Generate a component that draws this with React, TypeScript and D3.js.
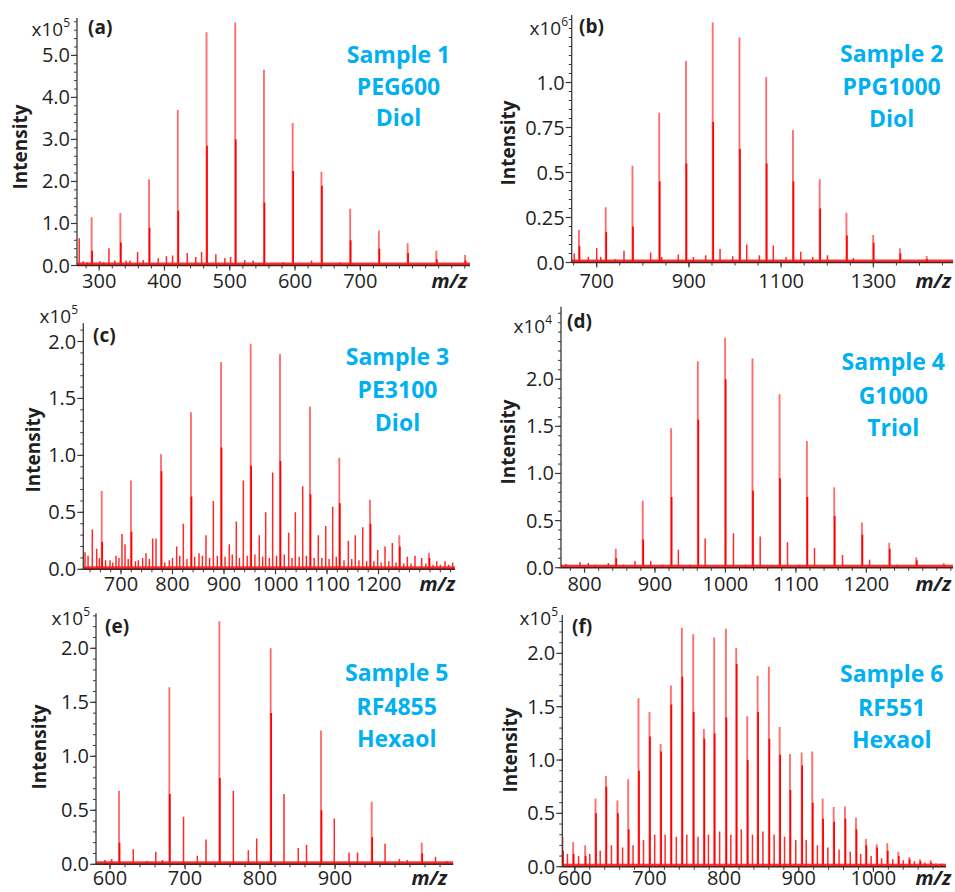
import React from 'react';
import * as d3 from 'd3';

// main peaks: [m/z, apex intensity, height of the dense core below the apex]
// minor peaks: [m/z, intensity]
const peaksA = [[288.4, 1.15, 0.35], [332.4, 1.25, 0.55], [376.4, 2.05, 0.9], [420.4, 3.7, 1.3], [464.4, 5.55, 2.85], [508.4, 5.78, 3.0], [552.4, 4.66, 1.5], [596.4, 3.39, 2.25], [640.4, 2.23, 1.9], [684.4, 1.35, 0.6], [728.4, 0.83, 0.4], [772.4, 0.53, 0.3], [816.4, 0.35, 0.15], [860.4, 0.25, 0.12]];
const minorA = [[269.4, 0.65], [275.5, 0.1], [281.6, 0.08], [301, 0.1], [307, 0.08], [314.9, 0.41], [324, 0.12], [341, 0.12], [347, 0.12], [358.8, 0.32], [367.4, 0.13], [390.4, 0.17], [403, 0.22], [412.4, 0.24], [434.8, 0.3], [448, 0.2], [456.8, 0.32], [478.7, 0.27], [492.5, 0.18], [501.2, 0.2], [523, 0.13], [535.8, 0.12], [546, 0.06], [581.8, 0.08], [625.3, 0.12], [668.6, 0.08], [711.9, 0.05], [755.4, 0.04], [801.4, 0.04], [857.4, 0.06]];

const peaksB = [[661.6, 0.18, 0.09], [719.6, 0.307, 0.17], [777.6, 0.538, 0.2], [835.6, 0.832, 0.45], [893.6, 1.12, 0.55], [951.6, 1.334, 0.78], [1009.6, 1.25, 0.63], [1067.6, 1.03, 0.55], [1125.6, 0.736, 0.45], [1183.6, 0.462, 0.3], [1241.6, 0.277, 0.15], [1299.6, 0.153, 0.11], [1357.6, 0.079, 0.05], [1415.6, 0.036, 0.02]];
const minorB = [[651.4, 0.05], [681.8, 0.03], [700, 0.08], [708.7, 0.03], [739.7, 0.02], [759.2, 0.065], [817, 0.055], [841, 0.03], [877, 0.045], [909.6, 0.03], [936.4, 0.04], [967.5, 0.075], [995, 0.035], [1025.4, 0.1], [1052.7, 0.04], [1083, 0.095], [1110.6, 0.03], [1142.5, 0.06], [1168.5, 0.03], [1200.3, 0.04], [1256.6, 0.025], [1318, 0.01]];

const peaksC = [[662.5, 0.687, 0.24], [719.4, 0.78, 0.33], [777.7, 1.01, 0.86], [835.9, 1.38, 0.64], [894.2, 1.82, 1.07], [951.8, 1.98, 0.91], [1008.7, 1.89, 0.95], [1067, 1.43, 0.66], [1123.9, 0.98, 0.58], [1183.5, 0.61, 0.4], [1240.4, 0.3, 0.2], [1298, 0.146, 0.1]];
const minorC = [[630.1, 0.15], [644.3, 0.35], [652.8, 0.18], [678.6, 0.08], [690.3, 0.12], [701.9, 0.31], [707.8, 0.22], [733.6, 0.08], [748.5, 0.14], [761.5, 0.27], [768, 0.27], [793.8, 0.08], [808.1, 0.2], [821, 0.4], [851.5, 0.14], [865, 0.3], [879.3, 0.6], [910.3, 0.22], [923.9, 0.42], [937.5, 0.78], [968.5, 0.3], [980.9, 0.5], [994.5, 0.85], [1025.6, 0.32], [1038.5, 0.5], [1052.8, 0.73], [1083.1, 0.3], [1097.5, 0.38], [1111, 0.55], [1141.4, 0.25], [1154.9, 0.3], [1169.3, 0.37], [1198.4, 0.17], [1212.6, 0.2], [1226.8, 0.23], [1255.9, 0.11], [1270.9, 0.12], [1283.8, 0.1], [1313, 0.07], [1329.1, 0.07], [1344, 0.06]];
const fillC = [[636, 0.12], [658, 0.1], [670, 0.08], [684, 0.06], [696, 0.1], [714, 0.09], [728, 0.07], [742, 0.1], [755, 0.09], [785, 0.06], [800, 0.1], [814, 0.12], [828, 0.09], [843, 0.11], [858, 0.12], [872, 0.1], [887, 0.12], [902, 0.11], [916, 0.13], [930, 0.1], [945, 0.12], [960, 0.13], [975, 0.11], [988, 0.1], [1002, 0.12], [1017, 0.13], [1032, 0.1], [1046, 0.11], [1060, 0.12], [1075, 0.1], [1090, 0.1], [1104, 0.09], [1118, 0.11], [1133, 0.08], [1148, 0.09], [1162, 0.08], [1177, 0.07], [1191, 0.07], [1205, 0.06], [1220, 0.07], [1234, 0.06], [1249, 0.05], [1263, 0.05], [1292, 0.05], [1306, 0.04], [1320, 0.04], [1336, 0.04]];

const peaksD = [[844.3, 0.2, 0.1], [882.6, 0.71, 0.3], [922.9, 1.48, 0.75], [960.8, 2.19, 1.57], [999.6, 2.44, 2.0], [1038.4, 2.22, 0.82], [1076.8, 1.84, 0.95], [1115.6, 1.345, 0.75], [1154.4, 0.853, 0.55], [1193.7, 0.48, 0.35], [1232.5, 0.265, 0.2], [1270.9, 0.11, 0.08], [1309.7, 0.047, 0.03]];
const minorD = [[773.7, 0.04], [793.6, 0.06], [805.4, 0.05], [815, 0.03], [833.8, 0.05], [855.1, 0.03], [871.7, 0.07], [894, 0.07], [911, 0.03], [933.2, 0.19], [949.9, 0.03], [971.2, 0.31], [988.7, 0.02], [1011.4, 0.365], [1028, 0.03], [1049.3, 0.33], [1065.9, 0.02], [1088.1, 0.27], [1105.1, 0.03], [1126.4, 0.21], [1144, 0.02], [1166.2, 0.135], [1204.6, 0.085], [1243.5, 0.03], [1281.3, 0.015]];

const peaksE = [[612, 0.68, 0.2], [679.1, 1.64, 0.65], [745.8, 2.25, 0.8], [814.2, 2.0, 1.4], [881.3, 1.24, 0.5], [948.9, 0.58, 0.25], [1015.6, 0.2, 0.1]];
const minorE = [[593.3, 0.04], [602.2, 0.05], [631, 0.14], [648.9, 0.03], [661, 0.117], [669.8, 0.04], [698, 0.44], [716.4, 0.08], [728, 0.23], [764.4, 0.68], [784.4, 0.13], [795.6, 0.24], [832, 0.65], [851, 0.15], [862, 0.18], [899, 0.425], [918.7, 0.11], [930, 0.11], [966.7, 0.19], [985.8, 0.05], [996.4, 0.04], [1034, 0.07], [1049, 0.03]];

const peaksF = [[583.5, 0.28, 0.15], [597.7, 0.23, 0.12], [613.8, 0.2, 0.1], [627.7, 0.64, 0.5], [641.6, 0.85, 0.75], [657, 0.62, 0.5], [671.5, 0.82, 0.35], [685.3, 1.58, 0.9], [700, 1.45, 1.22], [714.9, 1.15, 1.08], [728.7, 1.7, 1.52], [743.4, 2.24, 1.78], [758.6, 2.18, 1.45], [772.9, 1.29, 1.2], [786.7, 2.15, 1.25], [802.4, 2.23, 1.4], [816.2, 2.05, 1.9], [831, 1.41, 1.0], [844.9, 1.79, 1.45], [860, 1.875, 1.2], [874.4, 1.31, 1.05], [888.2, 1.056, 0.72], [903.9, 1.07, 0.95], [918.1, 1.08, 0.6], [932, 0.64, 0.45], [946.8, 0.56, 0.42], [961.9, 0.565, 0.45], [976.7, 0.46, 0.35], [990, 0.26, 0.2], [1004.4, 0.21, 0.18], [1018.6, 0.22, 0.15], [1033.4, 0.14, 0.1], [1048, 0.09, 0.07], [1062.5, 0.07, 0.05], [1076.8, 0.06, 0.04], [1091.5, 0.03, 0.02]];
const minorF = [[590, 0.12], [605, 0.1], [620, 0.12], [634, 0.15], [649, 0.2], [664, 0.18], [678, 0.2], [692, 0.25], [707, 0.3], [721, 0.3], [736, 0.28], [750, 0.3], [765, 0.28], [779, 0.3], [794, 0.33], [809, 0.3], [823, 0.35], [838, 0.3], [852, 0.33], [867, 0.3], [881, 0.28], [896, 0.25], [910, 0.25], [925, 0.2], [939, 0.18], [954, 0.16], [969, 0.14], [983, 0.12], [997, 0.1], [1011, 0.08], [1026, 0.07], [1040, 0.06], [1055, 0.05], [1069, 0.04], [1084, 0.03]];

const xTicksA = [300, 400, 500, 600, 700];
const xTicksB = [700, 900, 1100, 1300];
const xTicksC = [700, 800, 900, 1000, 1100, 1200];
const xTicksD = [800, 900, 1000, 1100, 1200];
const xTicksE = [600, 700, 800, 900];
const xTicksF = [600, 700, 800, 900, 1000];

const yTicksA = [0, 1, 2, 3, 4, 5];
const yTicksB = [0, 0.25, 0.5, 0.75, 1];
const yLabelsB = ['0.0', '0.25', '0.5', '0.75', '1.0'];
const yTicksHalf = [0, 0.5, 1, 1.5, 2];

const sampleA = ['Sample 1', 'PEG600', 'Diol'];
const sampleB = ['Sample 2', 'PPG1000', 'Diol'];
const sampleC = ['Sample 3', 'PE3100', 'Diol'];
const sampleD = ['Sample 4', 'G1000', 'Triol'];
const sampleE = ['Sample 5', 'RF4855', 'Hexaol'];
const sampleF = ['Sample 6', 'RF551', 'Hexaol'];

const FONT = "'Open Sans', 'Noto Sans', 'DejaVu Sans', sans-serif";
const INK = '#1f1f1f';
const BLUE = '#00b0f0';

const panels = [
  { id: 'a', peaks: peaksA, minor: minorA, fill: [], xTicks: xTicksA, yTicks: yTicksA, yLabels: null, sample: sampleA, exp: '5',
    left: 77, right: 470, base: 265.5, top: 18, xDom: [266, 868], yMax: 5.89, xMinor: 20, yMinor: 0.2,
    expX: 70, expY: 36, letterX: 88, letterY: 34, intX: 20, intY: 147, sampleX: 398.5, sampleY: [63, 95, 126], tickY: 288, mzX: 467 },
  { id: 'b', peaks: peaksB, minor: minorB, fill: [], xTicks: xTicksB, yTicks: yTicksB, yLabels: yLabelsB, sample: sampleB, exp: '6',
    left: 571.7, right: 953, base: 262.5, top: 15, xDom: [645.8, 1472.7], yMax: 1.375, xMinor: 50, yMinor: 0.05,
    expX: 568, expY: 35, letterX: 579, letterY: 33, intX: 508, intY: 143, sampleX: 891.7, sampleY: [62, 95, 127], tickY: 288, mzX: 951 },
  { id: 'c', peaks: peaksC, minor: minorC, fill: fillC, xTicks: xTicksC, yTicks: yTicksHalf, yLabels: null, sample: sampleC, exp: '5',
    left: 83.3, right: 455, base: 569.3, top: 323.3, xDom: [626.8, 1348.5], yMax: 2.16, xMinor: 20, yMinor: 0.1,
    expX: 78, expY: 323, letterX: 93, letterY: 342, intX: 33, intY: 450, sampleX: 397.5, sampleY: [365, 398, 431], tickY: 591, mzX: 455 },
  { id: 'd', peaks: peaksD, minor: minorD, fill: [], xTicks: xTicksD, yTicks: yTicksHalf, yLabels: null, sample: sampleD, exp: '4',
    left: 561, right: 953, base: 567.7, top: 306.7, xDom: [766.6, 1323], yMax: 2.77, xMinor: 20, yMinor: 0.1,
    expX: 552, expY: 333, letterX: 567, letterY: 328, intX: 508, intY: 442, sampleX: 893.3, sampleY: [370, 404, 436], tickY: 591, mzX: 951 },
  { id: 'e', peaks: peaksE, minor: minorE, fill: [], xTicks: xTicksE, yTicks: yTicksHalf, yLabels: null, sample: sampleE, exp: '5',
    left: 96, right: 453.3, base: 864.3, top: 613.3, xDom: [581.3, 1057.7], yMax: 2.324, xMinor: 20, yMinor: 0.1,
    expX: 90, expY: 625, letterX: 105, letterY: 633, intX: 38.5, intY: 747, sampleX: 396.7, sampleY: [681, 715, 747], tickY: 885, mzX: 447 },
  { id: 'f', peaks: peaksF, minor: minorF, fill: [], xTicks: xTicksF, yTicks: yTicksHalf, yLabels: null, sample: sampleF, exp: '5',
    left: 562.3, right: 946, base: 866.7, top: 615, xDom: [583.2, 1097.3], yMax: 2.36, xMinor: 20, yMinor: 0.1,
    expX: 558, expY: 625, letterX: 572, letterY: 633, intX: 510, intY: 750, sampleX: 891.7, sampleY: [682, 716, 748], tickY: 885, mzX: 951 },
];

function Panel({ p }: { p: any }) {
  const x = d3.scaleLinear().domain(p.xDom).range([p.left, p.right]);
  const y = d3.scaleLinear().domain([0, p.yMax]).range([p.base, p.top]);
  const xm = d3.range(Math.ceil(p.xDom[0] / p.xMinor) * p.xMinor, p.xDom[1], p.xMinor);
  const ym = d3.range(0, p.yMax, p.yMinor);
  const clip = `clip-${p.id}`;
  const fmt = d3.format('.1f');
  return (
    <g>
      <defs>
        <clipPath id={clip}>
          <rect x={p.left} y={p.top - 5} width={p.right - p.left} height={p.base - p.top + 5} />
        </clipPath>
      </defs>
      <g clipPath={`url(#${clip})`}>
        {p.fill.map((d: number[], i: number) => (
          <line key={'f' + i} x1={x(d[0])} x2={x(d[0])} y1={y(0)} y2={y(d[1])} stroke="#ff2020" strokeWidth={1.4} />
        ))}
        {p.minor.map((d: number[], i: number) => (
          <line key={'m' + i} x1={x(d[0])} x2={x(d[0])} y1={y(0)} y2={y(d[1])} stroke="#ff2a2a" strokeWidth={1.5} />
        ))}
        {p.peaks.map((d: number[], i: number) => (
          <g key={'p' + i}>
            <line x1={x(d[0])} x2={x(d[0])} y1={y(0)} y2={y(d[1])} stroke="#ff6f6f" strokeWidth={1.9} />
            <line x1={x(d[0]) + 0.5} x2={x(d[0]) + 0.5} y1={y(0)} y2={y(d[2])} stroke="#ff0000" strokeWidth={1.7} />
          </g>
        ))}
        <rect x={p.left} y={p.base - 3} width={p.right - p.left} height={3} fill="#ff1a1a" opacity={0.9} />
      </g>
      {/* axes */}
      <line x1={p.left} x2={p.left} y1={p.top} y2={p.base} stroke="#3a3a3a" strokeWidth={1.3} />
      <line x1={p.left} x2={p.right} y1={p.base} y2={p.base} stroke="#4a2020" strokeWidth={1.4} />
      {ym.map((v: number, i: number) => (
        <line key={'ym' + i} x1={p.left - 3} x2={p.left} y1={y(v)} y2={y(v)} stroke="#3a3a3a" strokeWidth={1} />
      ))}
      {p.yTicks.map((v: number, i: number) => (
        <g key={'yt' + i}>
          <line x1={p.left - 6} x2={p.left} y1={y(v)} y2={y(v)} stroke="#3a3a3a" strokeWidth={1.2} />
          <text x={p.left - 7} y={y(v) + 7} textAnchor="end" fontSize={20} fill={INK}>
            {p.yLabels ? p.yLabels[i] : fmt(v)}
          </text>
        </g>
      ))}
      {xm.map((v: number, i: number) => (
        <line key={'xm' + i} x1={x(v)} x2={x(v)} y1={p.base} y2={p.base + 3} stroke="#3a3a3a" strokeWidth={1} />
      ))}
      {p.xTicks.map((v: number, i: number) => (
        <g key={'xt' + i}>
          <line x1={x(v)} x2={x(v)} y1={p.base} y2={p.base + 5} stroke="#3a3a3a" strokeWidth={1.2} />
          <text x={x(v)} y={p.tickY} textAnchor="middle" fontSize={20} fill={INK}>{v}</text>
        </g>
      ))}
      <text x={p.mzX} y={p.tickY} textAnchor="end" fontSize={20} fontWeight="bold" fontStyle="italic" fill={INK}>m/z</text>
      {/* labels */}
      <text x={p.expX} y={p.expY} textAnchor="end" fontSize={19} fill={INK}>
        x10<tspan fontSize={12} dy={-9}>{p.exp}</tspan>
      </text>
      <text x={p.letterX} y={p.letterY} fontSize={19} fontWeight="bold" fill={INK}>({p.id})</text>
      <text transform={`translate(${p.intX},${p.intY}) rotate(-90)`} textAnchor="middle" dy={7} fontSize={19} fontWeight="bold" fill={INK}>Intensity</text>
      {p.sample.map((s: string, i: number) => (
        <text key={'s' + i} x={p.sampleX} y={p.sampleY[i]} textAnchor="middle" fontSize={23} fontWeight="bold" fill={BLUE}>{s}</text>
      ))}
    </g>
  );
}

export default function App() {
  return (
    <svg width={955} height={892} style={{ position: 'absolute', left: 0, top: 0, background: '#fff' }} fontFamily={FONT}>
      <rect width={955} height={892} fill="#fff" />
      {panels.map((p) => <Panel key={p.id} p={p} />)}
    </svg>
  );
}
